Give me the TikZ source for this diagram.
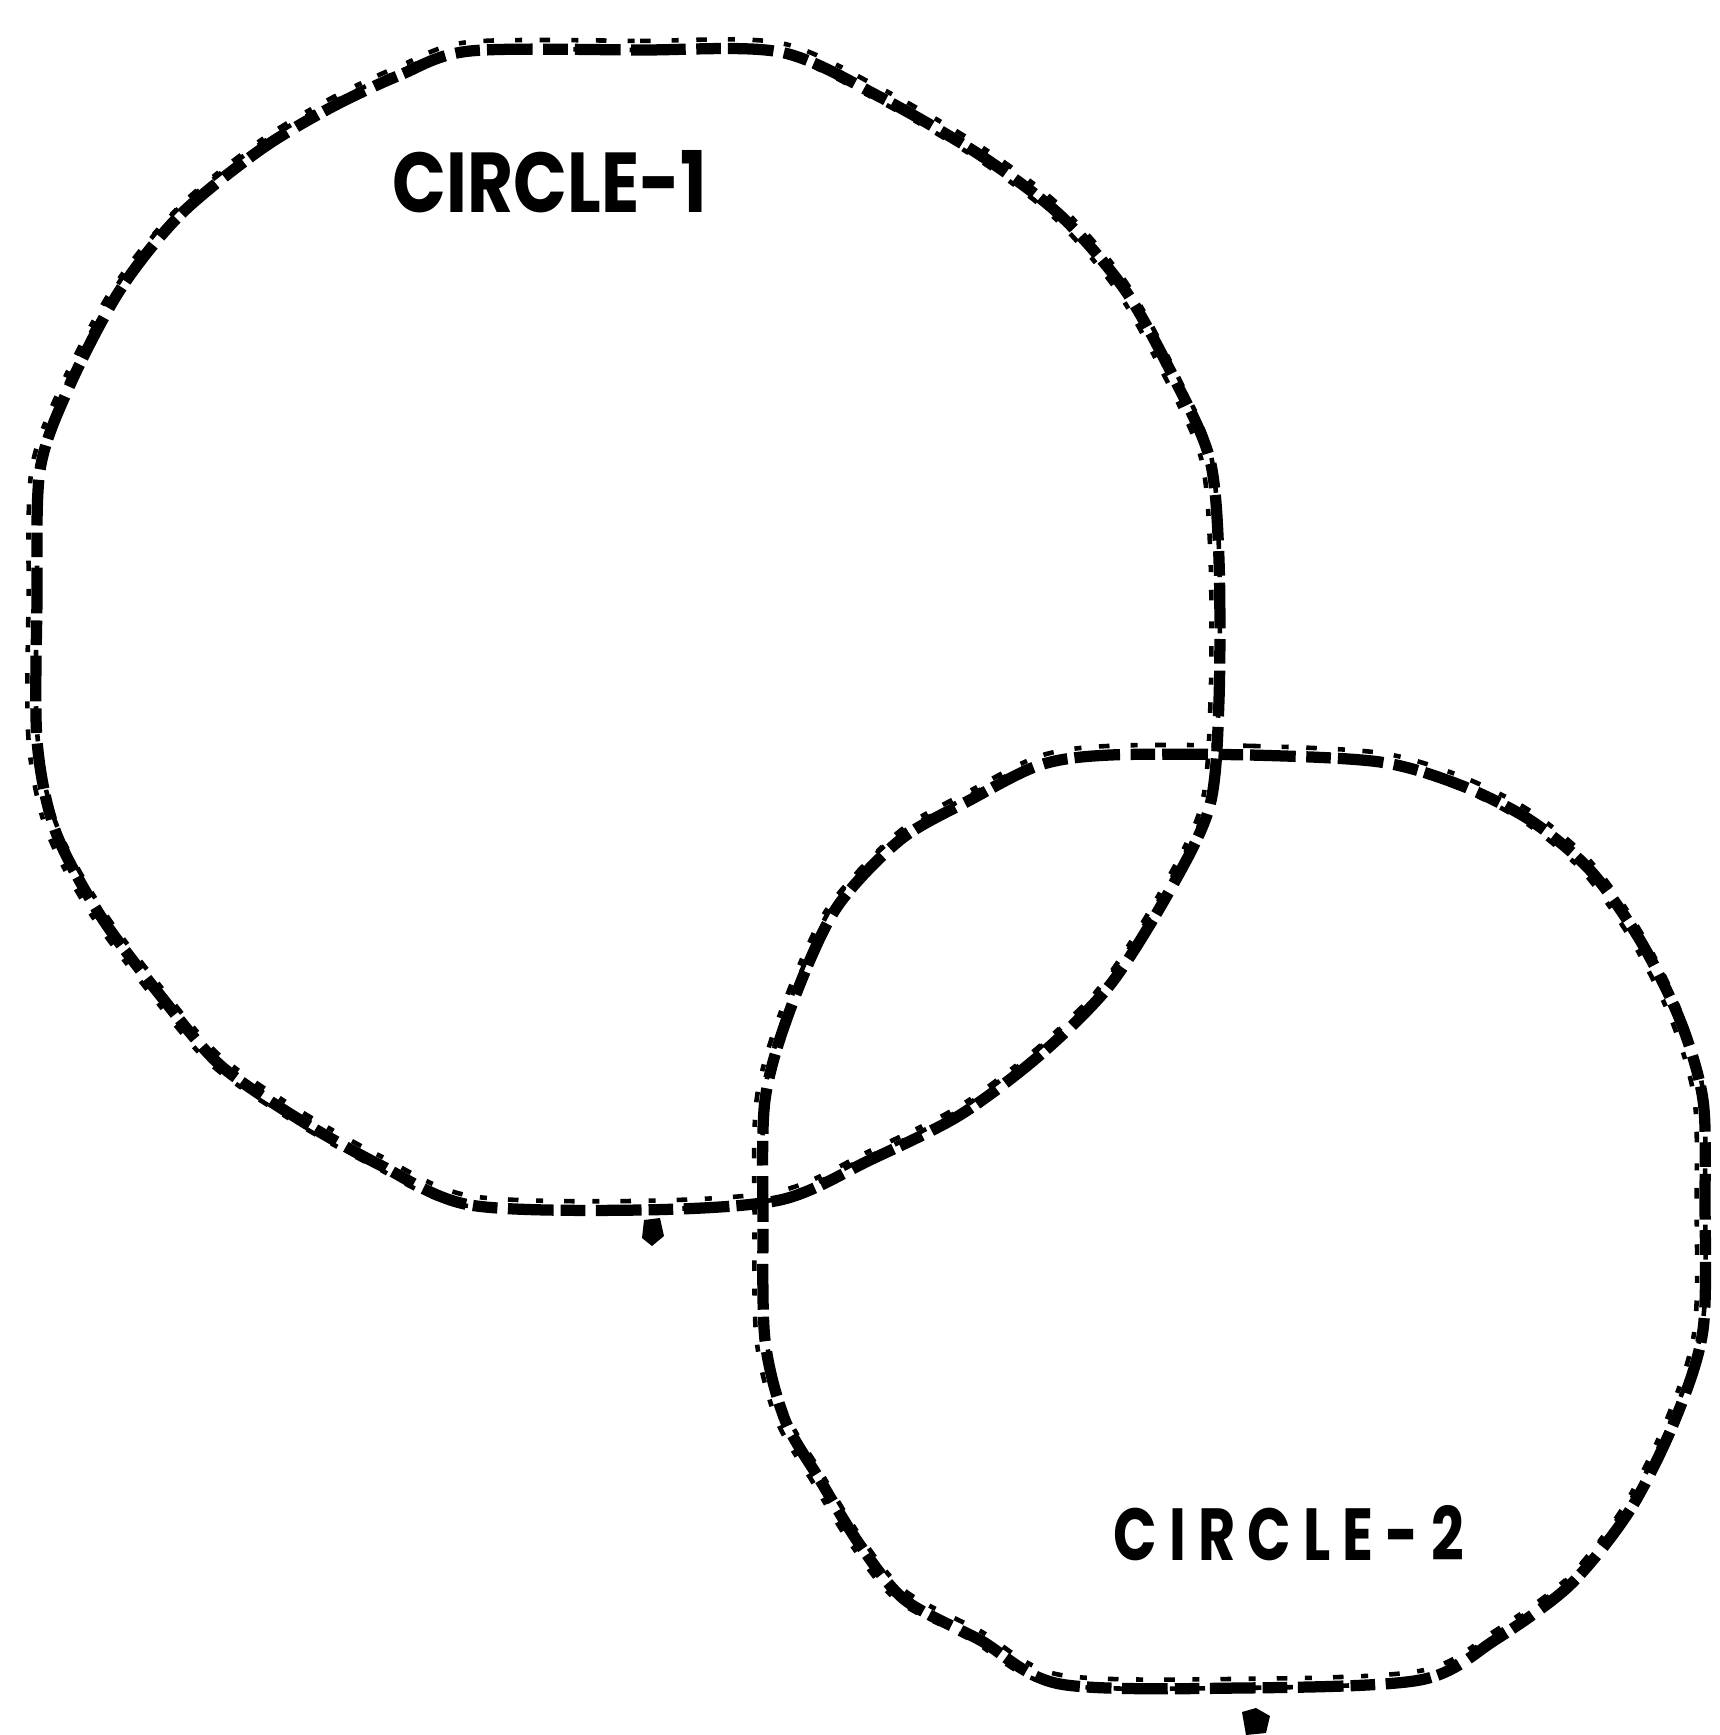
\documentclass[tikz,border=0pt]{standalone}
\usepackage{fontspec}
\setmainfont{Poppins}
\tikzset{
  sketchline/.style={line width=3.2pt, black, line join=round, dash pattern=on 13pt off 3pt on 7pt off 2pt},
  sketchnoise/.style={line width=1.3pt, black, dash pattern=on 3pt off 6pt on 2pt off 5pt},
  label1/.style={inner sep=0pt, anchor=north west},
  blob/.style={black}
}
\newcommand{\circleone}{plot[smooth cycle, tension=0.5] coordinates {
 (470,51) (640,50) (780,52) (880,97) (980,155) (1060,215) (1125,290) (1175,380)
 (1210,460) (1219,560) (1219,700) (1210,805) (1170,890) (1110,985) (1040,1055)
 (960,1115) (870,1160) (780,1200) (640,1210) (470,1205) (380,1165) (300,1120)
 (220,1065) (160,995) (100,915) (55,830) (37,740) (37,600) (40,470) (70,385)
 (120,290) (180,215) (260,150) (330,108) (400,75)}}
\newcommand{\circletwo}{plot[smooth cycle, tension=0.5] coordinates {
 (1110,755) (1250,755) (1380,762) (1460,785) (1530,820) (1590,870) (1640,940)
 (1680,1020) (1703,1100) (1705,1200) (1703,1330) (1675,1420) (1630,1510)
 (1570,1585) (1495,1640) (1420,1680) (1240,1688) (1060,1684) (980,1640)
 (905,1600) (860,1545) (820,1480) (785,1420) (765,1340) (763,1220) (765,1100)
 (790,1010) (835,910) (900,840) (970,800) (1040,765)}}
\begin{document}
\begin{tikzpicture}[x=0.01cm,y=-0.01cm]
\useasboundingbox (0,0) rectangle (1720,1735);
% circle 1
\draw[sketchline] \circleone;
\draw[sketchnoise, yshift=2.6pt] \circleone;
\draw[sketchnoise, xshift=-2.4pt, dash phase=4pt] \circleone;
% circle 2
\draw[sketchline] \circletwo;
\draw[sketchnoise, yshift=2.6pt] \circletwo;
\draw[sketchnoise, xshift=-2.4pt, dash phase=4pt] \circletwo;
% small stray marks
\fill[blob] (1242,1712) -- (1256,1708) -- (1270,1716) -- (1266,1733) -- (1246,1735) -- cycle;
\fill[blob] (644,1220) -- (660,1218) -- (664,1236) -- (652,1246) -- (642,1238) -- cycle;
\node[label1] (c1) at (392,150) {\resizebox{3.14cm}{0.62cm}{\bfseries CIRCLE-1}};
\node[label1] (c2) at (1113,1505) {\resizebox{3.5cm}{0.55cm}{\bfseries C I R C L E - 2}};
\end{tikzpicture}
\end{document}
